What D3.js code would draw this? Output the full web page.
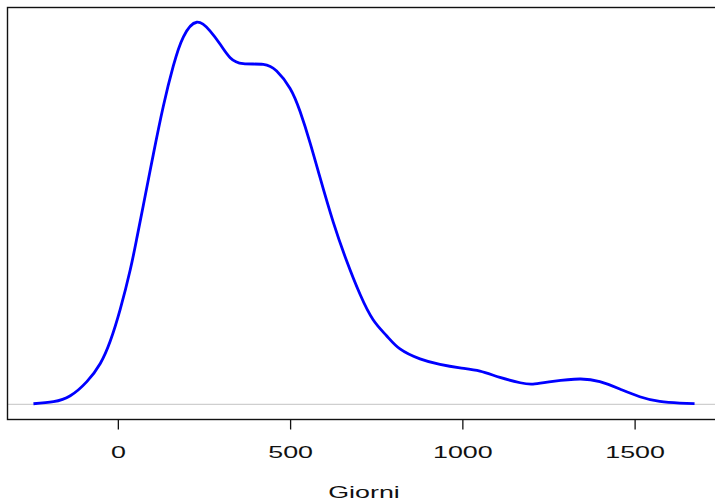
<!DOCTYPE html>
<html>
<head>
<meta charset="utf-8">
<script src="https://cdn.jsdelivr.net/npm/d3@7"></script>
<style>
  html, body { margin: 0; padding: 0; background: #fff; }
  svg { display: block; }
  text { font-family: "Liberation Sans", Arial, Helvetica, sans-serif; fill: #111; }
</style>
</head>
<body>
<script>
// Kernel density estimate of durations (days)
const giorni = [-245, -187, -138, -90, -51, -22, 7, 36, 55, 74, 103, 132, 161, 190, 229,
  268, 297, 326, 364, 422, 461, 500, 529, 558, 587, 625, 664, 703, 741, 780, 819,
  877, 935, 993, 1051, 1109, 1168, 1205, 1263, 1341, 1399, 1457, 1515, 1573, 1631, 1674];
const densita = [0.000003, 0.0000117, 0.0000375, 0.0000985, 0.000177, 0.000274, 0.000412,
  0.000582, 0.000718, 0.000861, 0.001081, 0.001289, 0.001463, 0.001588, 0.001652,
  0.001614, 0.001557, 0.001499, 0.001473, 0.00147, 0.001441, 0.001366, 0.001266,
  0.001131, 0.00098, 0.000789, 0.000621, 0.000476, 0.000366, 0.000297, 0.00024,
  0.000197, 0.000173, 0.000158, 0.000144, 0.000117, 0.0000937, 0.0000877, 0.0000998,
  0.00011, 0.0000985, 0.0000668, 0.0000334, 0.000013, 0.0000061, 0.0000039];
const xTicks = [0, 500, 1000, 1500];
const xLabel = "Giorni";

const W = 715, H = 501;
const plot = { left: 7, right: 721, top: 7, bottom: 419 };
const textStretch = 1.58;

// R-style axis ranges: data range padded by 4% on each side
function padded(ext) {
  const d = (ext[1] - ext[0]) * 0.04;
  return [ext[0] - d, ext[1] + d];
}

const x = d3.scaleLinear().domain(padded(d3.extent(giorni))).range([plot.left, plot.right]);
const y = d3.scaleLinear().domain(padded(d3.extent(densita))).range([plot.bottom, plot.top]);

const svg = d3.select("body").append("svg").attr("width", W).attr("height", H);
svg.append("rect").attr("width", W).attr("height", H).attr("fill", "#fff");

// zero line
svg.append("line")
  .attr("x1", plot.left).attr("x2", plot.right)
  .attr("y1", y(0)).attr("y2", y(0))
  .attr("stroke", "#cfcfcf").attr("stroke-width", 1.2);

// density curve
const pts = giorni.map((g, i) => [g, densita[i]]);
svg.append("path")
  .datum(pts)
  .attr("fill", "none")
  .attr("stroke", "#0000ff")
  .attr("stroke-width", 2.8)
  .attr("stroke-linejoin", "round")
  .attr("d", d3.line().x(d => x(d[0])).y(d => y(d[1])).curve(d3.curveNatural));

// frame
svg.append("rect")
  .attr("x", plot.left + 0.5).attr("y", plot.top + 0.5)
  .attr("width", plot.right - plot.left).attr("height", plot.bottom - plot.top)
  .attr("fill", "none").attr("stroke", "#111").attr("stroke-width", 1.4);

// x axis ticks
const axis = d3.axisBottom(x).tickValues(xTicks).tickSize(10).tickFormat(d3.format("d"));
const gAxis = svg.append("g").attr("transform", `translate(0,${plot.bottom + 0.5})`).call(axis);
gAxis.select(".domain").remove();
gAxis.selectAll(".tick line").attr("stroke", "#111").attr("stroke-width", 1.3);
gAxis.selectAll(".tick text")
  .attr("y", 0).attr("dy", null)
  .attr("font-size", 17)
  .attr("fill", "#111")
  .attr("text-anchor", "middle")
  .attr("transform", `translate(0,${457.5 - plot.bottom - 0.5}) scale(${textStretch},1)`);

// axis title, centred on the plotting region
svg.append("text")
  .attr("transform", `translate(${(plot.left + plot.right) / 2},497.5) scale(${textStretch},1)`)
  .attr("text-anchor", "middle")
  .attr("font-size", 17)
  .text(xLabel);
</script>
</body>
</html>
